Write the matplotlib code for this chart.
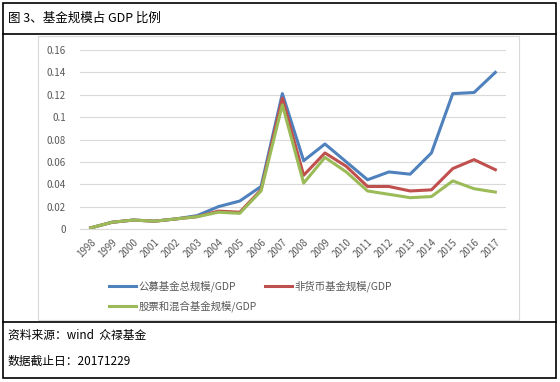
import matplotlib
matplotlib.use("Agg")
import matplotlib.pyplot as plt
from matplotlib.patches import Rectangle
from matplotlib.lines import Line2D

plt.rcParams['font.family'] = ['Noto Sans CJK SC', 'DejaVu Sans']

years = [str(y) for y in range(1998, 2018)]
total = [0.001, 0.006, 0.008, 0.007, 0.009, 0.012, 0.020, 0.025, 0.038, 0.121,
         0.061, 0.076, 0.060, 0.044, 0.051, 0.049, 0.068, 0.121, 0.122, 0.140]
nonmoney = [0.001, 0.006, 0.008, 0.007, 0.009, 0.011, 0.016, 0.015, 0.035, 0.117,
            0.048, 0.068, 0.056, 0.038, 0.038, 0.034, 0.035, 0.054, 0.062, 0.053]
equity = [0.001, 0.006, 0.008, 0.007, 0.009, 0.011, 0.015, 0.014, 0.034, 0.111,
          0.041, 0.064, 0.051, 0.034, 0.031, 0.028, 0.029, 0.043, 0.036, 0.033]
series_names = ['公募基金总规模/GDP', '非货币基金规模/GDP', '股票和混合基金规模/GDP']
colors = ['#4F81BD', '#C0504D', '#9BBB59']
yticks = [0, 0.02, 0.04, 0.06, 0.08, 0.1, 0.12, 0.14, 0.16]
ytick_labels = ['0', '0.02', '0.04', '0.06', '0.08', '0.1', '0.12', '0.14', '0.16']
title = '图 3、基金规模占 GDP 比例'
source = '资料来源：wind  众禄基金'
cutoff = '数据截止日：20171229'

W, H = 560, 382
fig = plt.figure(figsize=(W / 100, H / 100), dpi=100)

def fx(px):
    return px / W

def fy(py):
    return 1 - py / H

# outer frame and separators
fig.patches.append(Rectangle((fx(3), fy(378)), fx(553), (375) / H, transform=fig.transFigure,
                             fill=False, edgecolor='black', linewidth=1.2))
fig.add_artist(Line2D([fx(3), fx(556)], [fy(34), fy(34)], color='black', linewidth=1.2))
fig.add_artist(Line2D([fx(3), fx(556)], [fy(322), fy(322)], color='black', linewidth=1.2))
# inner chart border
fig.patches.append(Rectangle((fx(38), fy(320)), fx(481), (284) / H, transform=fig.transFigure,
                             fill=False, edgecolor='#D9D9D9', linewidth=0.8))

fig.text(fx(8), fy(18), title, fontsize=9, va='center', ha='left', color='black')
fig.text(fx(8), fy(335), source, fontsize=8.5, va='center', ha='left', color='black')
fig.text(fx(8), fy(361), cutoff, fontsize=8.5, va='center', ha='left', color='black')

ax = fig.add_axes([fx(80), fy(229), fx(506) - fx(80), fy(50) - fy(229)])
x = list(range(len(years)))
lines = []
for vals, c, n in zip([total, nonmoney, equity], colors, series_names):
    l, = ax.plot(x, vals, color=c, linewidth=2.2, label=n, solid_joinstyle='round')
    lines.append(l)

ax.set_xlim(-0.5, len(years) - 0.5)
ax.set_ylim(0, 0.16)
ax.set_yticks(yticks)
ax.set_yticklabels(ytick_labels)
ax.set_xticks(x)
ax.set_xticklabels(years, rotation=45, ha='right', rotation_mode='anchor')
ax.tick_params(axis='both', length=0, labelsize=7, labelcolor='#595959')
ax.tick_params(axis='y', pad=10)
ax.tick_params(axis='x', pad=6)
ax.grid(axis='y', color='#D9D9D9', linewidth=0.8)
ax.set_axisbelow(True)
for s in ax.spines.values():
    s.set_visible(False)
ax.spines['bottom'].set_visible(True)
ax.spines['bottom'].set_color('#D9D9D9')

leg = fig.legend([lines[0], lines[2], lines[1]],
                 [series_names[0], series_names[2], series_names[1]],
                 ncol=2, loc='upper left', bbox_to_anchor=(fx(100), fy(271)),
                 frameon=False, fontsize=7.5, handlelength=2.6, handletextpad=0.2,
                 columnspacing=0.8, labelspacing=0.8)
for t in leg.get_texts():
    t.set_color('#595959')

fig.savefig('out.png', dpi=100)
